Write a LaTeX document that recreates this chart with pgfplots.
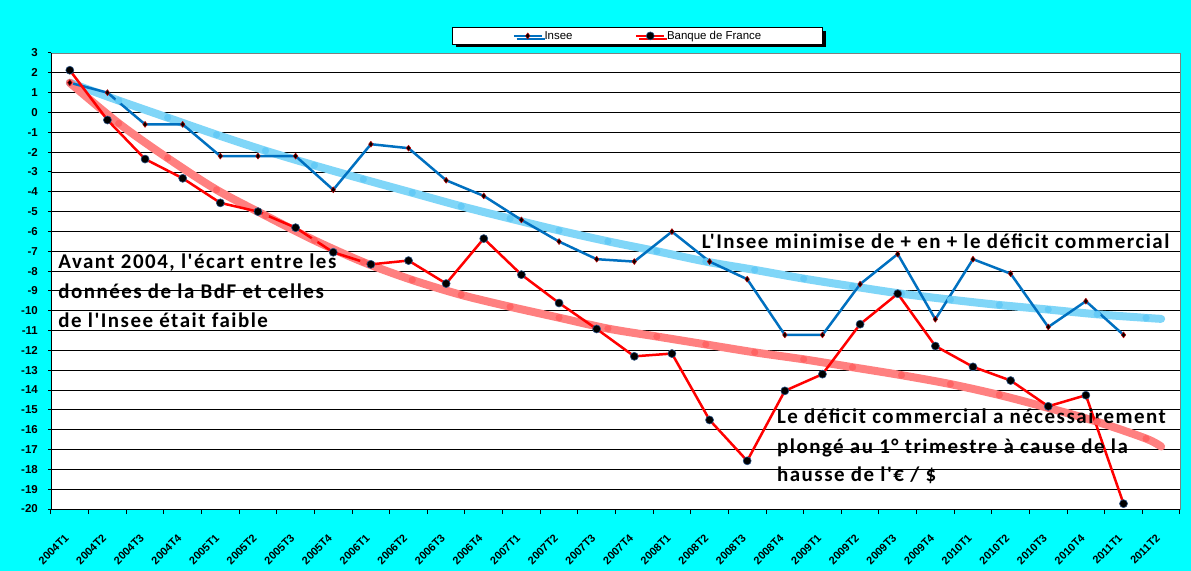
\documentclass[border=0pt]{standalone}
\usepackage{pgfplots}
\pgfplotsset{compat=1.18}
\usepackage{fontspec}
\setmainfont{Liberation Sans}
\newfontfamily\calibri[LetterSpace=7.2]{Carlito}
\usetikzlibrary{shadows}
\definecolor{bgcyan}{RGB}{0,255,255}
\definecolor{inseeblue}{RGB}{0,112,192}
\definecolor{trendblue}{RGB}{128,214,248}
\definecolor{trenddotblue}{RGB}{100,202,246}
\definecolor{trendred}{RGB}{255,128,128}
\definecolor{trenddotred}{RGB}{255,100,100}
\definecolor{markrim}{RGB}{40,80,130}
\begin{document}
\begin{tikzpicture}
\useasboundingbox (-51bp,-62bp) rectangle (1140bp,509bp);
\fill[bgcyan] (-51bp,-62bp) rectangle (1140bp,509bp);
\begin{axis}[
  at={(0,0)}, anchor=south west,
  scale only axis, width=1129bp, height=456bp,
  xmin=-0.5, xmax=29.5, ymin=-20, ymax=3,
  axis background/.style={fill=white},
  axis line style={draw=gray, line width=0.8bp},
  ytick={-20,-19,...,3},
  ymajorgrids, major grid style={black, line width=0.9bp},
  xtick={0,...,29},
  xticklabels={2004T1,2004T2,2004T3,2004T4,2005T1,2005T2,2005T3,2005T4,2006T1,2006T2,2006T3,2006T4,2007T1,2007T2,2007T3,2007T4,2008T1,2008T2,2008T3,2008T4,2009T1,2009T2,2009T3,2009T4,2010T1,2010T2,2010T3,2010T4,2011T1,2011T2},
  minor xtick={-0.5,0.5,...,29.5},
  every major x tick/.append style={draw=none},
  every minor x tick/.append style={black, line width=1bp},
  every major y tick/.append style={black, line width=1bp},
  tick align=outside, major tick length=3bp, minor tick length=5bp,
  xtick pos=bottom, ytick pos=left,
  /pgf/number format/assume math mode=true,
  yticklabel style={font=\bfseries\fontsize{11.5}{13}\selectfont, anchor=east, inner sep=0pt, xshift=-10bp},
  xticklabel style={font=\bfseries\fontsize{11}{13}\selectfont, inner sep=0pt, yshift=-24bp, xshift=-3bp, rotate=45, anchor=east},
  legend columns=2,
  legend image code/.code={\draw[mark repeat=2,mark phase=2,#1] plot coordinates {(0bp,0bp) (14bp,0bp) (28bp,0bp)};},
  legend style={at={(axis description cs:0.3552,1.057)}, anchor=north west,
     draw=black, line width=1bp, fill=white,
     drop shadow={shadow xshift=3bp, shadow yshift=-3bp, fill=black, opacity=1},
     font=\fontsize{11.5}{13}\selectfont, inner xsep=60bp, inner ysep=2.5bp,
     nodes={inner xsep=1.5bp, inner ysep=1bp},
     /tikz/every even column/.append style={column sep=61bp}},
]
% trend lines
\addplot[forget plot, trendblue, line width=8bp, smooth, line cap=round]
 coordinates {(0,1.5) (1.3,0.6) (2.6,-0.26) (3.9,-1.12) (5.2,-1.93) (6.5,-2.67) (7.8,-3.37) (9.1,-4.05) (10.4,-4.73) (11.7,-5.35) (13.0,-5.95) (14.3,-6.5) (15.6,-7.0) (16.9,-7.52) (18.2,-7.94) (19.5,-8.38) (20.8,-8.77) (22.1,-9.14) (23.4,-9.44) (24.7,-9.71) (26.0,-9.94) (27.3,-10.18) (28.6,-10.36) (29,-10.41)};
\addplot[forget plot, only marks, mark=*, mark size=3.3bp, trenddotblue]
 coordinates {(0,1.5) (1.3,0.6) (2.6,-0.26) (3.9,-1.12) (5.2,-1.93) (6.5,-2.67) (7.8,-3.37) (9.1,-4.05) (10.4,-4.73) (11.7,-5.35) (13.0,-5.95) (14.3,-6.5) (15.6,-7.0) (16.9,-7.52) (18.2,-7.94) (19.5,-8.38) (20.8,-8.77) (22.1,-9.14) (23.4,-9.44) (24.7,-9.71) (26.0,-9.94) (27.3,-10.18) (28.6,-10.36)};
\addplot[forget plot, trendred, line width=8bp, smooth, line cap=round]
 coordinates {(0,1.5) (1.3,-0.55) (2.6,-2.3) (3.9,-3.9) (5.2,-5.2) (6.5,-6.45) (7.8,-7.55) (9.1,-8.45) (10.4,-9.2) (11.7,-9.8) (13.0,-10.35) (14.3,-10.9) (15.6,-11.3) (16.9,-11.7) (18.2,-12.1) (19.5,-12.45) (20.8,-12.85) (22.1,-13.25) (23.4,-13.7) (24.7,-14.25) (26.0,-14.9) (27.3,-15.6) (28.6,-16.45) (29,-16.85)};
\addplot[forget plot, only marks, mark=*, mark size=3.3bp, trenddotred]
 coordinates {(0,1.5) (1.3,-0.55) (2.6,-2.3) (3.9,-3.9) (5.2,-5.2) (6.5,-6.45) (7.8,-7.55) (9.1,-8.45) (10.4,-9.2) (11.7,-9.8) (13.0,-10.35) (14.3,-10.9) (15.6,-11.3) (16.9,-11.7) (18.2,-12.1) (19.5,-12.45) (20.8,-12.85) (22.1,-13.25) (23.4,-13.7) (24.7,-14.25) (26.0,-14.9) (27.3,-15.6) (28.6,-16.45)};
% Insee
\addplot[inseeblue, line width=2.5bp, line join=round, mark=diamond*, mark size=3bp,
  mark options={fill=black, draw=red!75!black, line width=0.5bp}]
 coordinates {(0,1.5) (1,1.0) (2,-0.6) (3,-0.6) (4,-2.2) (5,-2.2) (6,-2.2) (7,-3.9) (8,-1.6) (9,-1.8) (10,-3.42) (11,-4.21) (12,-5.42) (13,-6.51) (14,-7.4) (15,-7.52) (16,-6.01) (17,-7.52) (18,-8.41) (19,-11.22) (20,-11.22) (21,-8.66) (22,-7.14) (23,-10.43) (24,-7.4) (25,-8.13) (26,-10.82) (27,-9.52) (28,-11.22)};
\addlegendentry{Insee}
% Banque de France
\addplot[red, line width=2.5bp, line join=round, mark=*, mark size=4bp,
  mark options={fill=black, draw=markrim, line width=0.6bp}]
 coordinates {(0,2.13) (1,-0.38) (2,-2.35) (3,-3.32) (4,-4.56) (5,-5.0) (6,-5.81) (7,-7.05) (8,-7.66) (9,-7.47) (10,-8.63) (11,-6.36) (12,-8.18) (13,-9.61) (14,-10.92) (15,-12.3) (16,-12.16) (17,-15.51) (18,-17.57) (19,-14.04) (20,-13.2) (21,-10.68) (22,-9.14) (23,-11.78) (24,-12.83) (25,-13.52) (26,-14.82) (27,-14.26) (28,-19.73)};
\addlegendentry{Banque de France}
% left and bottom axis lines in black
\draw[black, line width=0.9bp] (axis cs:-0.5,3) -- (axis cs:-0.5,-20) -- (axis cs:29.5,-20);
% annotations
\begin{scope}[every node/.style={font=\calibri\bfseries\fontsize{21}{25}\selectfont, inner sep=0pt, anchor=base west}]
\node at (axis cs:-0.31,-7.86) {Avant 2004, l'écart entre les};
\node at (axis cs:-0.31,-9.37) {données de la BdF et celles};
\node at (axis cs:-0.31,-10.83) {de l'Insee était faible};
\node at (axis cs:16.79,-6.85) {L'Insee minimise de + en + le déficit commercial};
\node at (axis cs:18.79,-15.71) {Le déficit commercial a nécessairement};
\node at (axis cs:18.79,-17.19) {plongé au 1° trimestre à cause de la};
\node at (axis cs:18.79,-18.62) {hausse de l'€ / \$};
\end{scope}
\end{axis}
\end{tikzpicture}
\end{document}
